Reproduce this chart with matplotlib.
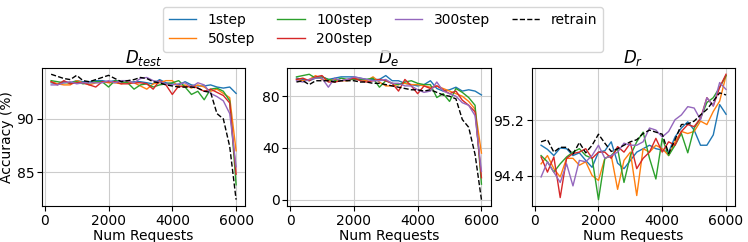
import matplotlib
matplotlib.use("Agg")
import matplotlib.pyplot as plt
import numpy as np

# number of requests: 200 .. 6000
requests = list(range(200, 6001, 200))
labels = ["1step", "50step", "100step", "200step", "300step", "retrain"]

# accuracy on D_test
test_1 = [93.4, 93.3, 93.5, 93.4, 93.6, 93.5, 93.5, 93.6, 93.6, 93.5, 93.6, 93.5, 93.4, 93.5, 93.5,
          93.4, 93.3, 93.7, 93.4, 93.3, 93.2, 93.5, 93.2, 93.1, 93.1, 93.2, 93.0, 92.9, 93.0, 92.4]
test_50 = [93.5, 93.3, 93.2, 93.2, 93.6, 93.4, 93.2, 93.4, 93.5, 93.4, 93.4, 93.3, 93.5, 93.4, 93.1,
           92.8, 93.3, 93.4, 93.6, 93.6, 93.0, 93.2, 92.9, 93.2, 93.0, 92.6, 92.8, 92.4, 92.0, 87.0]
test_100 = [93.6, 93.5, 93.4, 93.4, 93.5, 93.3, 93.4, 93.5, 93.5, 93.0, 93.6, 93.5, 93.4, 92.8, 93.2,
            93.3, 93.0, 93.2, 93.3, 93.4, 93.6, 93.0, 92.3, 92.6, 91.8, 92.8, 92.9, 92.6, 91.7, 83.8]
test_200 = [93.5, 93.2, 93.6, 93.3, 93.4, 93.4, 93.2, 93.0, 93.5, 93.5, 93.5, 93.3, 93.3, 93.4, 93.4,
            93.3, 92.8, 93.6, 93.2, 92.3, 93.1, 93.0, 93.1, 92.9, 92.6, 92.8, 92.5, 92.2, 91.5, 84.8]
test_300 = [93.2, 93.2, 93.4, 93.5, 93.3, 93.4, 93.4, 93.4, 93.4, 93.6, 93.4, 93.6, 93.6, 93.4, 93.8,
            93.9, 93.6, 93.5, 93.3, 93.2, 93.3, 93.4, 93.0, 93.4, 93.2, 92.4, 92.1, 91.7, 90.5, 85.5]
test_re = [94.2, 94.0, 93.8, 93.7, 94.1, 93.6, 93.5, 93.7, 93.9, 94.1, 93.8, 93.5, 93.6, 93.7, 93.9,
           93.8, 93.5, 93.4, 93.2, 93.1, 93.0, 93.0, 93.0, 92.9, 92.6, 92.5, 90.5, 90.0, 87.4, 82.4]

# accuracy on D_e
e_1 = [94, 93, 92, 94, 95, 93, 94, 95, 95, 95, 94, 93, 93, 93, 96,
       92, 92, 90, 89, 88, 89, 92, 86, 84, 85, 87, 84, 85, 84, 81]
e_50 = [93, 92, 93, 96, 93, 92, 93, 92, 92, 94, 93, 92, 95, 91, 88,
        88, 89, 90, 89, 89, 88, 87, 88, 86, 84, 82, 80, 76, 70, 36]
e_100 = [95, 96, 97, 94, 95, 93, 92, 94, 93, 93, 93, 93, 94, 87, 92,
         90, 89, 91, 92, 90, 89, 89, 79, 82, 76, 86, 83, 79, 73, 12]
e_200 = [93, 94, 92, 95, 96, 91, 91, 92, 93, 94, 92, 91, 92, 93, 92,
         90, 84, 93, 88, 82, 88, 86, 88, 85, 82, 84, 77, 73, 68, 17]
e_300 = [92, 91, 93, 94, 94, 87, 94, 92, 93, 95, 94, 93, 92, 92, 93,
         90, 90, 88, 88, 85, 83, 84, 91, 84, 82, 80, 75, 73, 65, 22]
e_re = [91, 92, 89, 92, 92, 92, 91, 92, 92, 92, 91, 91, 90, 90, 89,
        88, 87, 86, 85, 85, 84, 85, 83, 81, 80, 78, 62, 56, 35, 0]

# accuracy on D_r
r_1 = [94.84, 94.78, 94.69, 94.80, 94.79, 94.69, 94.73, 94.62, 94.52, 94.74, 94.76, 94.89, 94.58, 94.50, 94.62,
       94.74, 94.79, 94.84, 94.79, 94.77, 94.74, 94.96, 95.09, 95.18, 95.06, 94.84, 94.84, 94.99, 95.43, 95.29]
r_50 = [94.57, 94.69, 94.50, 94.38, 94.65, 94.65, 94.55, 94.60, 94.40, 94.33, 94.65, 94.69, 94.20, 94.62, 94.74,
        94.11, 94.79, 94.74, 94.84, 94.79, 94.69, 94.89, 95.04, 95.01, 95.04, 95.19, 95.14, 95.33, 95.48, 95.85]
r_100 = [94.69, 94.60, 94.45, 94.57, 94.67, 94.74, 94.79, 94.69, 94.65, 94.05, 94.65, 94.69, 94.79, 94.30, 94.69,
         94.89, 95.03, 94.65, 94.35, 94.94, 94.69, 94.84, 95.01, 94.73, 95.09, 95.23, 95.46, 95.53, 95.68, 95.85]
r_200 = [94.67, 94.45, 94.67, 94.08, 94.65, 94.72, 94.74, 94.79, 94.65, 94.74, 94.74, 94.65, 94.82, 94.74, 94.87,
         94.50, 94.65, 94.74, 94.94, 94.74, 94.89, 94.84, 95.04, 95.14, 95.11, 95.23, 95.53, 95.41, 95.68, 95.87]
r_300 = [94.38, 94.60, 94.45, 94.30, 94.57, 94.25, 94.62, 94.60, 94.69, 94.84, 94.65, 94.69, 94.74, 94.87, 94.84,
         94.84, 94.89, 95.09, 95.06, 94.96, 95.04, 95.21, 95.28, 95.40, 95.38, 95.21, 95.53, 95.41, 95.75, 95.65]
r_re = [94.89, 94.92, 94.74, 94.81, 94.81, 94.71, 94.88, 94.73, 94.84, 95.00, 94.87, 94.75, 94.79, 94.84, 94.89,
        94.92, 95.01, 95.06, 95.03, 95.00, 94.72, 94.92, 95.14, 95.15, 95.19, 95.28, 95.36, 95.48, 95.60, 95.57]

panels = [
    (r"$D_{test}$", [test_1, test_50, test_100, test_200, test_300, test_re], [85, 90]),
    (r"$D_e$", [e_1, e_50, e_100, e_200, e_300, e_re], [0, 40, 80]),
    (r"$D_r$", [r_1, r_50, r_100, r_200, r_300, r_re], [94.4, 95.2]),
]

colors = ["#1f77b4", "#ff7f0e", "#2ca02c", "#d62728", "#9467bd", "black"]

plt.rcParams["font.family"] = "DejaVu Sans"
plt.rcParams["font.size"] = 10

fig = plt.figure(figsize=(7.48, 2.42), dpi=100)
lefts = [0.056, 0.384, 0.711]
width = 0.272
bottom, height = 0.149, 0.570

handles = []
for i, (title, series, yticks) in enumerate(panels):
    ax = fig.add_axes([lefts[i], bottom, width, height])
    for j, vals in enumerate(series):
        if labels[j] == "retrain":
            h, = ax.plot(requests, vals, color="black", linestyle="--", linewidth=1.0, label=labels[j])
        else:
            h, = ax.plot(requests, vals, color=colors[j], linewidth=1.0, label=labels[j])
        if i == 0:
            handles.append(h)
    ax.set_title(title, fontsize=12, pad=3)
    ax.set_xticks([0, 2000, 4000, 6000])
    ax.set_yticks(yticks)
    ax.set_xlabel("Num Requests", labelpad=1)
    ax.grid(True, color="#cccccc", linewidth=0.8)
    ax.tick_params(labelsize=10, pad=2)
    if i == 0:
        ax.set_ylabel("Accuracy (%)", labelpad=2)

fig.legend(handles=handles, loc="upper center", bbox_to_anchor=(0.512, 1.0),
           ncol=4, fontsize=10, frameon=True, handlelength=2.0,
           columnspacing=1.6, labelspacing=0.4, borderpad=0.4)

fig.savefig("out.png", dpi=100)
